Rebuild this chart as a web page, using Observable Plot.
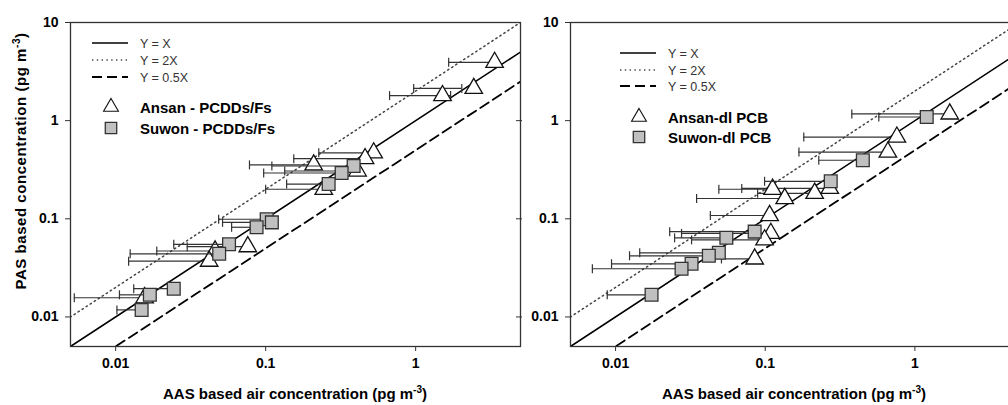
<!DOCTYPE html>
<html><head><meta charset="utf-8">
<script src="https://cdn.jsdelivr.net/npm/d3@7"></script>
<script src="https://cdn.jsdelivr.net/npm/@observablehq/plot@0.6"></script>
<style>
html,body{margin:0;padding:0;background:#fff;overflow:hidden;}
#wrap{position:relative;width:1008px;height:405px;overflow:hidden;background:#fff;}
#left,#right{position:absolute;top:0;}
#left{left:0;width:524px;}
#right{left:522px;width:497px;}
svg{max-width:none !important;}
</style></head><body>
<div id="wrap"><div id="left"></div><div id="right"></div></div>
<script>
// ---------- axis ticks ----------
const xTicks = [0.01, 0.1, 1];
const yTicks = [0.01, 0.1, 1, 10];

// ---------- reference lines ----------
const refLabels = ["Y = X", "Y = 2X", "Y = 0.5X"];
const refSlopes = [1, 2, 0.5];
const refX = [0.001, 10];

// ---------- left panel: PCDDs/Fs ----------
const pcddAnsanLabel = "Ansan - PCDDs/Fs";
const pcddAnsanX    = [3.36, 2.44, 1.51, 0.525, 0.46, 0.209, 0.41, 0.244, 0.076, 0.046, 0.042, 0.0156];
const pcddAnsanY    = [3.93, 2.13, 1.80, 0.47, 0.41, 0.354, 0.307, 0.20, 0.052, 0.047, 0.037, 0.0157];
const pcddAnsanLow  = [1.66, 0.97, 0.67, 0.226, 0.154, 0.078, 0.134, 0.10, 0.030, 0.0188, 0.0122, 0.0053];
const pcddAnsanHigh = [3.36, 2.03, 1.71, 0.525, 0.46, 0.209, 0.41, 0.244, 0.076, 0.046, 0.042, 0.0156];

const pcddSuwonLabel = "Suwon - PCDDs/Fs";
const pcddSuwonX    = [0.386, 0.321, 0.263, 0.1016, 0.11, 0.087, 0.057, 0.049, 0.0169, 0.0244, 0.0149];
const pcddSuwonY    = [0.345, 0.293, 0.226, 0.099, 0.092, 0.082, 0.055, 0.044, 0.0168, 0.0194, 0.0118];
const pcddSuwonLow  = [0.11, 0.097, 0.138, 0.0486, 0.0516, 0.0593, 0.0244, 0.0125, 0.0106, 0.0132, 0.0102];

// ---------- right panel: dl PCB ----------
const pcbAnsanLabel = "Ansan-dl PCB";
const pcbAnsanX    = [1.71, 0.758, 0.66, 0.27, 0.112, 0.214, 0.135, 0.107, 0.109, 0.099, 0.085];
const pcbAnsanY    = [1.17, 0.68, 0.478, 0.204, 0.20, 0.182, 0.161, 0.108, 0.071, 0.061, 0.039];
const pcbAnsanLow  = [0.379, 0.181, 0.168, 0.0697, 0.049, 0.089, 0.0348, 0.043, 0.0276, 0.0322, 0.051];

const pcbSuwonLabel = "Suwon-dl PCB";
const pcbSuwonX    = [1.2, 0.449, 0.274, 0.085, 0.055, 0.049, 0.042, 0.0322, 0.0276, 0.0174];
const pcbSuwonY    = [1.09, 0.395, 0.241, 0.074, 0.064, 0.045, 0.042, 0.0348, 0.031, 0.0168];
const pcbSuwonLow  = [0.574, 0.228, 0.099, 0.023, 0.0248, 0.0145, 0.0124, 0.0094, 0.0070, 0.0088];

const axisTitleX = "AAS based air concentration (pg m";
const axisTitleY = "PAS based concentration (pg m";

// ---------- styles ----------
const FONT = "'Liberation Sans', Arial, Helvetica, sans-serif";
const TRI_R = 6.5, SQ_R = 7.2;
const triStyle = {fill: "white", stroke: "#111", strokeWidth: 1.3};
const sqStyle = {fill: "#c0c0c0", stroke: "#333", strokeWidth: 1.3};
const barStroke = "#333";
const capSymbol = {draw(ctx) { ctx.moveTo(0, -4.5); ctx.lineTo(0, 4.5); }};
const lineStyles = [
  {stroke: "#000", strokeWidth: 1.6, strokeDasharray: null},
  {stroke: "#444", strokeWidth: 1.5, strokeDasharray: "1.4,3.4"},
  {stroke: "#000", strokeWidth: 1.8, strokeDasharray: "10,5"}
];

function rows(xs, ys, lows, highs) {
  return xs.map((x, i) => ({x, y: ys[i], lo: lows[i], hi: highs ? highs[i] : x}));
}

function errorMarks(data) {
  return [
    Plot.ruleY(data, {y: "y", x1: "lo", x2: "hi", stroke: barStroke, strokeWidth: 1.2}),
    Plot.dot(data, {x: "lo", y: "y", symbol: capSymbol, stroke: barStroke, fill: "none", strokeWidth: 1.2, r: 4}),
    Plot.dot(data, {x: "hi", y: "y", symbol: capSymbol, stroke: barStroke, fill: "none", strokeWidth: 1.2, r: 4})
  ];
}

function panel({width, marginLeft, marginRight, ansan, suwon, rightTicks}) {
  const refMarks = refSlopes.map((k, i) => Plot.line(refX.map(x => ({x, y: k * x})), {
    x: "x", y: "y", clip: true, ...lineStyles[i]
  }));
  return Plot.plot({
    width, height: 405,
    marginTop: 22, marginBottom: 59, marginLeft, marginRight,
    style: {fontFamily: FONT, fontSize: "14px", fontWeight: "bold", color: "#000", background: "white"},
    x: {type: "log", domain: [0.005, 5]},
    y: {type: "log", domain: [0.005, 10]},
    marks: [
      ...refMarks,
      ...errorMarks(ansan),
      Plot.dot(ansan, {x: "x", y: "y", symbol: "triangle", r: TRI_R, ...triStyle}),
      ...errorMarks(suwon),
      Plot.dot(suwon, {x: "x", y: "y", symbol: "square", r: SQ_R, ...sqStyle}),
      Plot.axisX({ticks: xTicks, tickFormat: d => String(d), tickSize: 5, tickPadding: 7, label: null, stroke: "#333", fontSize: 14}),
      Plot.axisY({ticks: yTicks, tickFormat: d => String(d), tickSize: 5, tickPadding: 7, label: null, stroke: "#333", fontSize: 14}),
      ...(rightTicks ? [Plot.axisY({anchor: "right", ticks: yTicks.slice(0, 3), tickSize: 10, dx: -5, tickFormat: () => "", label: null, stroke: "#333"})] : []),
      Plot.frame({stroke: "#333", strokeWidth: 1.3})
    ]
  });
}

function addLegend(svg, {lx, ly, tx, sy, labels}) {
  const g = d3.select(svg).append("g").attr("font-family", FONT).attr("text-anchor", "start");
  refLabels.forEach((lab, i) => {
    const s = lineStyles[i];
    g.append("line").attr("x1", lx).attr("x2", lx + 36).attr("y1", ly[i]).attr("y2", ly[i])
      .attr("stroke", s.stroke).attr("stroke-width", s.strokeWidth)
      .attr("stroke-dasharray", s.strokeDasharray);
    g.append("text").attr("x", tx).attr("y", ly[i] + 4.5).attr("font-size", 12.5)
      .attr("font-weight", "normal").attr("fill", "#333").attr("text-anchor", "start").text(lab);
  });
  const sx = lx + 19;
  g.append("path").attr("transform", `translate(${sx},${sy[0]})`)
    .attr("d", d3.symbol(d3.symbolTriangle, TRI_R * TRI_R * Math.PI * 0.72)())
    .attr("fill", triStyle.fill).attr("stroke", triStyle.stroke).attr("stroke-width", 1.1);
  g.append("path").attr("transform", `translate(${sx},${sy[1]})`)
    .attr("d", d3.symbol(d3.symbolSquare, SQ_R * SQ_R * Math.PI * 0.8)())
    .attr("fill", sqStyle.fill).attr("stroke", sqStyle.stroke).attr("stroke-width", sqStyle.strokeWidth);
  labels.forEach((lab, i) => {
    g.append("text").attr("x", tx).attr("y", sy[i] + 5.5).attr("font-size", 15)
      .attr("font-weight", "bold").attr("fill", "#000").attr("text-anchor", "start").text(lab);
  });
}

function addTitle(svg, x, y, text, rotate, spacing) {
  const t = d3.select(svg).append("text")
    .attr("font-family", FONT).attr("font-size", 15).attr("font-weight", "bold")
    .attr("fill", "#000").attr("text-anchor", "middle")
    .attr("letter-spacing", spacing || 0)
    .attr("transform", rotate ? `translate(${x},${y}) rotate(-90)` : `translate(${x},${y})`);
  t.append("tspan").text(text);
  t.append("tspan").attr("font-size", 10).attr("dy", -6).text("-3");
  t.append("tspan").attr("dy", 6).text(")");
}

const leftSvg = panel({
  width: 524, marginLeft: 70, marginRight: 4,
  ansan: rows(pcddAnsanX, pcddAnsanY, pcddAnsanLow, pcddAnsanHigh),
  suwon: rows(pcddSuwonX, pcddSuwonY, pcddSuwonLow),
  rightTicks: true
});
addLegend(leftSvg, {lx: 92, ly: [43, 60, 77], tx: 140, sy: [107, 128], labels: [pcddAnsanLabel, pcddSuwonLabel]});
addTitle(leftSvg, 295, 399, axisTitleX, false, 0);
addTitle(leftSvg, 26, 161, axisTitleY, true, 0.55);
document.getElementById("left").appendChild(leftSvg);

const rightSvg = panel({
  width: 497, marginLeft: 48, marginRight: 0,
  ansan: rows(pcbAnsanX, pcbAnsanY, pcbAnsanLow),
  suwon: rows(pcbSuwonX, pcbSuwonY, pcbSuwonLow),
  rightTicks: false
});
addLegend(rightSvg, {lx: 98, ly: [53, 70, 86], tx: 146, sy: [117, 137], labels: [pcbAnsanLabel, pcbSuwonLabel]});
addTitle(rightSvg, 272, 399, axisTitleX, false, 0);
document.getElementById("right").appendChild(rightSvg);
</script>
</body></html>
